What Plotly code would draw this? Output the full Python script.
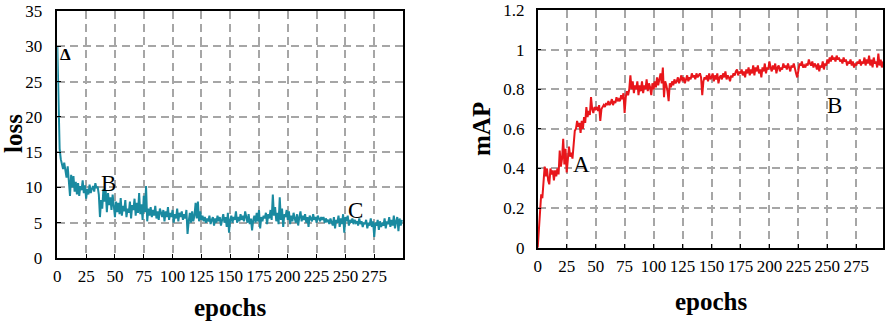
import plotly.graph_objects as go

# ---------------- data ----------------
loss_values = [
    30.0, 22.0, 15.5, 14.0, 13.2, 12.6, 13.5, 12.0, 11.4, 13.0,
    10.4, 8.8, 11.8, 10.0, 11.6, 9.4, 10.8, 9.0, 10.6, 8.8,
    10.2, 9.6, 11.0, 9.2, 10.3, 8.4, 9.8, 9.0, 10.4, 9.2,
    9.8, 10.2, 9.4, 10.6, 9.9, 10.1, 9.0, 5.8, 8.2, 7.0,
    9.8, 8.0, 9.5, 6.5, 9.2, 7.5, 8.6, 6.8, 9.0, 7.2,
    5.8, 8.0, 6.5, 7.8, 6.2, 8.5, 6.0, 7.4, 6.6, 8.2,
    5.8, 7.0, 6.4, 8.0, 5.6, 7.5, 6.8, 8.4, 6.0, 7.8,
    6.4, 9.2, 6.2, 7.6, 5.4, 8.8, 6.5, 10.2, 5.2, 7.0,
    6.0, 7.2, 5.8, 6.8, 6.0, 7.4, 5.6, 6.6, 5.4, 7.0,
    6.2, 5.8, 6.8, 5.2, 6.6, 5.8, 7.2, 5.4, 6.4, 5.8,
    6.8, 5.0, 6.2, 5.6, 7.0, 5.2, 6.4, 5.8, 6.6, 5.4,
    6.2, 5.6, 6.8, 3.4, 5.2, 6.4, 5.0, 6.6, 5.2, 6.0,
    7.8, 5.6, 8.0, 5.2, 6.6, 5.4, 6.0, 5.2, 5.8, 5.0,
    5.6, 5.2, 6.0, 4.8, 5.4, 5.8, 4.6, 5.6, 5.0, 6.0,
    5.2, 5.8, 4.6, 5.6, 6.2, 5.0, 5.8, 4.4, 6.4, 3.6,
    5.4, 6.0, 5.0, 5.8, 5.4, 6.6, 5.0, 5.8, 5.2, 6.2,
    5.4, 6.0, 5.2, 6.6, 5.6, 5.0, 6.2, 4.8, 5.6, 3.9,
    5.4, 6.0, 5.0, 6.4, 5.2, 6.8, 4.2, 5.8, 5.2, 6.0,
    5.6, 6.4, 4.8, 6.2, 5.6, 6.8, 5.4, 9.0, 6.0, 7.2,
    5.2, 6.4, 4.8, 8.6, 5.4, 7.0, 4.4, 6.2, 5.8, 6.8,
    5.4, 6.6, 4.8, 6.0, 5.2, 6.4, 5.6, 5.0, 6.2, 4.6,
    5.8, 6.6, 5.2, 6.0, 5.4, 6.2, 5.0, 5.8, 4.4, 6.0,
    5.6, 5.2, 6.2, 5.4, 5.8, 5.0, 6.0, 5.6, 5.2, 5.8,
    5.4, 5.8, 5.0, 5.6, 5.2, 5.4, 4.8, 5.6, 5.2, 4.6,
    5.8, 4.2, 5.4, 5.0, 6.0, 4.4, 5.6, 4.8, 6.2, 3.6,
    5.8, 5.2, 6.0, 4.6, 5.4, 5.0, 5.6, 4.8, 5.4, 5.0,
    5.2, 4.6, 5.6, 4.8, 5.2, 4.4, 5.0, 4.8, 5.4, 4.2,
    5.0, 4.6, 5.6, 4.4, 5.2, 3.0, 5.0, 4.6, 5.4, 4.0,
    5.2, 4.4, 5.0, 4.6, 5.6, 4.2, 5.2, 4.8, 5.8, 4.4,
    5.4, 4.6, 6.0, 4.2, 5.2, 5.8, 3.8, 5.6, 4.6, 5.4,
]
loss_epochs = list(range(len(loss_values)))

map_values = [
    0.00, 0.10, 0.19, 0.27, 0.25, 0.33, 0.41, 0.36, 0.40, 0.34,
    0.32, 0.40, 0.37, 0.39, 0.34, 0.39, 0.36, 0.40, 0.37, 0.49,
    0.41, 0.45, 0.55, 0.42, 0.50, 0.38, 0.45, 0.51, 0.46, 0.48,
    0.45, 0.52, 0.59, 0.60, 0.64, 0.61, 0.63, 0.58, 0.64, 0.60,
    0.66, 0.63, 0.71, 0.66, 0.69, 0.67, 0.76, 0.70, 0.68, 0.71,
    0.70, 0.71, 0.69, 0.72, 0.64, 0.70, 0.71, 0.72, 0.71, 0.73,
    0.72, 0.74, 0.72, 0.73, 0.75, 0.72, 0.74, 0.73, 0.76, 0.74,
    0.75, 0.74, 0.77, 0.75, 0.78, 0.68, 0.76, 0.79, 0.77, 0.80,
    0.87, 0.80, 0.84, 0.78, 0.82, 0.80, 0.84, 0.77, 0.82, 0.79,
    0.84, 0.78, 0.82, 0.80, 0.85, 0.79, 0.83, 0.81, 0.77, 0.83,
    0.80, 0.84, 0.81, 0.86, 0.82, 0.85, 0.88, 0.83, 0.91, 0.76,
    0.84, 0.82, 0.79, 0.74, 0.83, 0.81, 0.84, 0.82, 0.85, 0.83,
    0.84, 0.86, 0.83, 0.85, 0.87, 0.84, 0.86, 0.83, 0.85, 0.87,
    0.84, 0.86, 0.85, 0.88, 0.86, 0.87, 0.85, 0.88, 0.86, 0.87,
    0.88, 0.86, 0.77, 0.84, 0.86, 0.85, 0.87, 0.84, 0.88, 0.85,
    0.86, 0.88, 0.84, 0.87, 0.85, 0.88, 0.83, 0.86, 0.87, 0.85,
    0.88, 0.86, 0.89, 0.85, 0.87, 0.86, 0.84, 0.87, 0.86, 0.88,
    0.87, 0.89, 0.90, 0.87, 0.89, 0.88, 0.90, 0.87, 0.89, 0.86,
    0.90, 0.88, 0.91, 0.87, 0.90, 0.88, 0.92, 0.87, 0.91, 0.89,
    0.92, 0.88, 0.90, 0.86, 0.91, 0.89, 0.93, 0.88, 0.91, 0.90,
    0.94, 0.91, 0.89, 0.92, 0.90, 0.93, 0.88, 0.91, 0.92, 0.89,
    0.91, 0.90, 0.93, 0.91, 0.92, 0.90, 0.93, 0.91, 0.89, 0.92,
    0.91, 0.93, 0.90, 0.88, 0.86, 0.91, 0.93, 0.92, 0.94, 0.91,
    0.92, 0.91, 0.93, 0.92, 0.95, 0.93, 0.92, 0.94, 0.91, 0.93,
    0.92, 0.90, 0.93, 0.89, 0.92, 0.91, 0.94, 0.90, 0.93, 0.92,
    0.95, 0.93, 0.96, 0.94, 0.97, 0.95, 0.96, 0.94, 0.97, 0.95,
    0.96, 0.94, 0.95, 0.93, 0.96, 0.94, 0.95, 0.92, 0.94, 0.93,
    0.95, 0.92, 0.94, 0.91, 0.93, 0.92, 0.94, 0.93, 0.95, 0.92,
    0.94, 0.93, 0.96, 0.92, 0.95, 0.93, 0.97, 0.92, 0.95, 0.91,
    0.96, 0.93, 0.94, 0.91, 0.98, 0.92, 0.95, 0.91, 0.94,
]
map_epochs = list(range(len(map_values)))

x_tick_values = [0, 25, 50, 75, 100, 125, 150, 175, 200, 225, 250, 275]
loss_tick_values = [0, 5, 10, 15, 20, 25, 30, 35]
map_tick_values = [0, 0.2, 0.4, 0.6, 0.8, 1.0, 1.2]
map_tick_labels = ["0", "0.2", "0.4", "0.6", "0.8", "1", "1.2"]

loss_marks = [("<b>Δ</b>", 7, 28.8, 17), ("B", 44, 10.5, 23), ("C", 259, 6.8, 23)]
map_marks = [("A", 38, 0.42, 23), ("B", 256, 0.716, 23)]

# ---------------- figure ----------------
SERIF = "Liberation Serif"
fig = go.Figure()

fig.add_trace(go.Scatter(x=loss_epochs, y=loss_values, mode="lines",
                         line=dict(color="#1a8aa0", width=2),
                         xaxis="x", yaxis="y", showlegend=False))
fig.add_trace(go.Scatter(x=map_epochs, y=map_values, mode="lines",
                         line=dict(color="#e8161b", width=2),
                         xaxis="x2", yaxis="y2", showlegend=False))

axis_common = dict(
    showline=True, linecolor="black", linewidth=1.5, mirror=True,
    ticks="inside", ticklen=4, tickwidth=1.2, tickcolor="black",
    showgrid=True, gridcolor="#a6a6a6", gridwidth=1.5, griddash="8px,5px",
    zeroline=False, automargin=False, ticklabeloverflow="allow",
    tickfont=dict(family=SERIF, size=17, color="black"),
)

fig.update_layout(
    width=886, height=322,
    margin=dict(l=0, r=0, t=0, b=0, pad=0, autoexpand=False),
    paper_bgcolor="white", plot_bgcolor="white",
    font=dict(family=SERIF),
    xaxis=dict(domain=[0.0647, 0.4549], range=[0, 300], tickvals=x_tick_values,
               anchor="y", ticklabelstandoff=2, **axis_common),
    yaxis=dict(domain=[0.1988, 0.9658], range=[0, 35], tickvals=loss_tick_values,
               anchor="x", ticklabelstandoff=10, **axis_common),
    xaxis2=dict(domain=[0.6069, 0.9966], range=[0, 298], tickvals=x_tick_values,
                anchor="y2", ticklabelstandoff=2, **axis_common),
    yaxis2=dict(domain=[0.2307, 0.9689], range=[0, 1.2], tickvals=map_tick_values,
                ticktext=map_tick_labels, anchor="x2", ticklabelstandoff=8, **axis_common),
)

annotations = []
for txt, ex, ey, sz in loss_marks:
    annotations.append(dict(x=ex, y=ey, xref="x", yref="y", text=txt, showarrow=False,
                            font=dict(family=SERIF, size=sz, color="black")))
for txt, ex, ey, sz in map_marks:
    annotations.append(dict(x=ex, y=ey, xref="x2", yref="y2", text=txt, showarrow=False,
                            font=dict(family=SERIF, size=sz, color="black")))

title_font = dict(family=SERIF, size=25, color="black")
annotations += [
    dict(x=13 / 886, y=1 - 134 / 322, xref="paper", yref="paper", text="<b>loss</b>",
         textangle=-90, showarrow=False, font=title_font, xanchor="center", yanchor="middle"),
    dict(x=230 / 886, y=1 - 307 / 322, xref="paper", yref="paper", text="<b>epochs</b>",
         showarrow=False, font=title_font, xanchor="center", yanchor="middle"),
    dict(x=481 / 886, y=1 - 129 / 322, xref="paper", yref="paper", text="<b>mAP</b>",
         textangle=-90, showarrow=False, font=title_font, xanchor="center", yanchor="middle"),
    dict(x=711 / 886, y=1 - 301 / 322, xref="paper", yref="paper", text="<b>epochs</b>",
         showarrow=False, font=title_font, xanchor="center", yanchor="middle"),
]
fig.update_layout(annotations=annotations)

fig.write_html(
    "out.html",
    config={"displayModeBar": False},
    post_script="document.body.style.margin='0';document.body.style.padding='0';"
                "document.body.style.overflow='hidden';",
)
